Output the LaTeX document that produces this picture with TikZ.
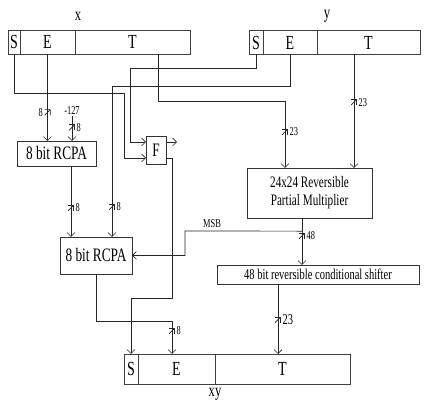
\documentclass[tikz,border=0pt]{standalone}
\usepackage{fontspec}
\setmainfont{Liberation Serif}[FakeStretch=0.7]
\usetikzlibrary{arrows.meta,positioning}

\begin{document}
\begin{tikzpicture}[x=1pt,y=-1pt,
    reg/.style={draw=black!75, minimum height=24pt, inner sep=0pt, outer sep=0pt,
      anchor=west, font=\fontsize{20}{20}\selectfont},
    blk/.style={draw=black!80, inner sep=0pt, outer sep=0pt, align=center,
      font=\fontsize{15}{17}\selectfont},
    wire/.style={draw=black!85, line width=0.7pt},
    >={Straight Barb[length=4pt,width=8pt]},
    tick/.style={inner sep=0pt, minimum size=6pt,
      path picture={\draw[black!85, line width=0.7pt]
        (path picture bounding box.south west) -- (path picture bounding box.north east);}},
    bits/.style={font=\fontsize{12}{12}\selectfont, inner sep=1pt}]
    \useasboundingbox (0,0) rectangle (429,403);

    % Operand registers
    \node[reg, minimum width=12pt] (xS) at (8,42) {S};
    \node[reg, minimum width=55pt, right=0pt of xS] (xE) {E};
    \node[reg, minimum width=115pt, right=0pt of xE] (xT) {T};
    \node[font=\fontsize{18}{18}\selectfont] (xlbl) at (78,16) {x};

    \node[reg, minimum width=14pt] (yS) at (249,42.5) {S};
    \node[reg, minimum width=54pt, right=0pt of yS] (yE) {E};
    \node[reg, minimum width=103pt, right=0pt of yE] (yT) {T};
    \node[font=\fontsize{18}{18}\selectfont] (ylbl) at (327,16) {y};

    % Result register
    \node[reg, minimum width=14pt, minimum height=30pt] (xyS) at (124,369) {S};
    \node[reg, minimum width=77pt, minimum height=30pt, right=0pt of xyS] (xyE) {E};
    \node[reg, minimum width=135pt, minimum height=30pt, right=0pt of xyE] (xyT) {T};
    \node[font=\fontsize{18}{18}\selectfont] (xylbl) at (215,394) {xy};

    % Blocks
    \node[blk, minimum width=79pt, minimum height=25pt, font=\fontsize{19}{19}\selectfont]
      (rcpa1) at (56.5,153.5) {8 bit RCPA};
    \node[blk, minimum width=72pt, minimum height=37pt, font=\fontsize{19}{19}\selectfont]
      (rcpa2) at (96,255.5) {8 bit RCPA};
    \node[blk, minimum width=20pt, minimum height=28pt, font=\fontsize{19}{19}\selectfont]
      (F) at (156,150) {F};
    \node[blk, minimum width=125pt, minimum height=50pt, font=\fontsize{16}{18}\selectfont]
      (mult) at (309.5,193) {24x24 Reversible\\Partial Multiplier};
    \node[blk, minimum width=202pt, minimum height=19pt] (shift) at (318,274.5)
      {48 bit reversible conditional shifter};
    \node[bits] (m127) at (72,111) {-127};

    % Sign path
    \draw[wire,->] (xS.south) |- (124,93) |- ([yshift=-8pt]F.west);
    \draw[wire,->] (yS.south) |- (130,68) |- ([yshift=8pt]F.west);
    \coordinate (fout) at (177,142);
    \draw[wire,->] (F.east |- fout) -- (fout);
    \draw[wire,->] ([yshift=-8pt]F.east) -| (172,298) -| (xyS.north);

    % Exponent path
    \draw[wire,->] (xE.south) -- node[tick, pos=0.67, label={[bits]left:8}] {} (xE.south |- rcpa1.north);
    \draw[wire,->] (m127.south) -- node[tick, pos=0.45, label={[bits]right:8}] {} (m127.south |- rcpa1.north);
    \draw[wire,->] (yE.south) |- (112,86) -- node[tick, pos=0.8, label={[bits]right:8}] {} (112,237);
    \draw[wire,->] (71,166) -- node[tick, pos=0.59, label={[bits]right:8}] {} (71,237);
    \draw[wire,->] (rcpa2.south) |- (172,321) -- node[tick, pos=0.3, label={[bits]right:8}] {} (172,354);

    % Mantissa path
    \draw[wire,->] ([xshift=26pt]xT.south) |- (285,101) -- node[tick, pos=0.46, label={[bits]right:23}] {} (285,168);
    \draw[wire,->] (yT.south -| 354,0) -- node[tick, pos=0.42, label={[bits]right:23}] {} (354,168);
    \draw[wire,->] (302,218) -- coordinate[pos=0.28] (msb)
      node[tick, pos=0.38, label={[bits]right:48}] {} (302,265);
    \draw[wire,->] (msb) -- (185,231) |- (rcpa2.east);
    \node[bits, anchor=south] (msblbl) at (212,229) {MSB};
    \draw[wire,->] (278,284) -- node[tick, pos=0.51,
      label={[font=\fontsize{15}{15}\selectfont, inner sep=1pt]right:23}] {} (278,354);
\end{tikzpicture}
\end{document}
